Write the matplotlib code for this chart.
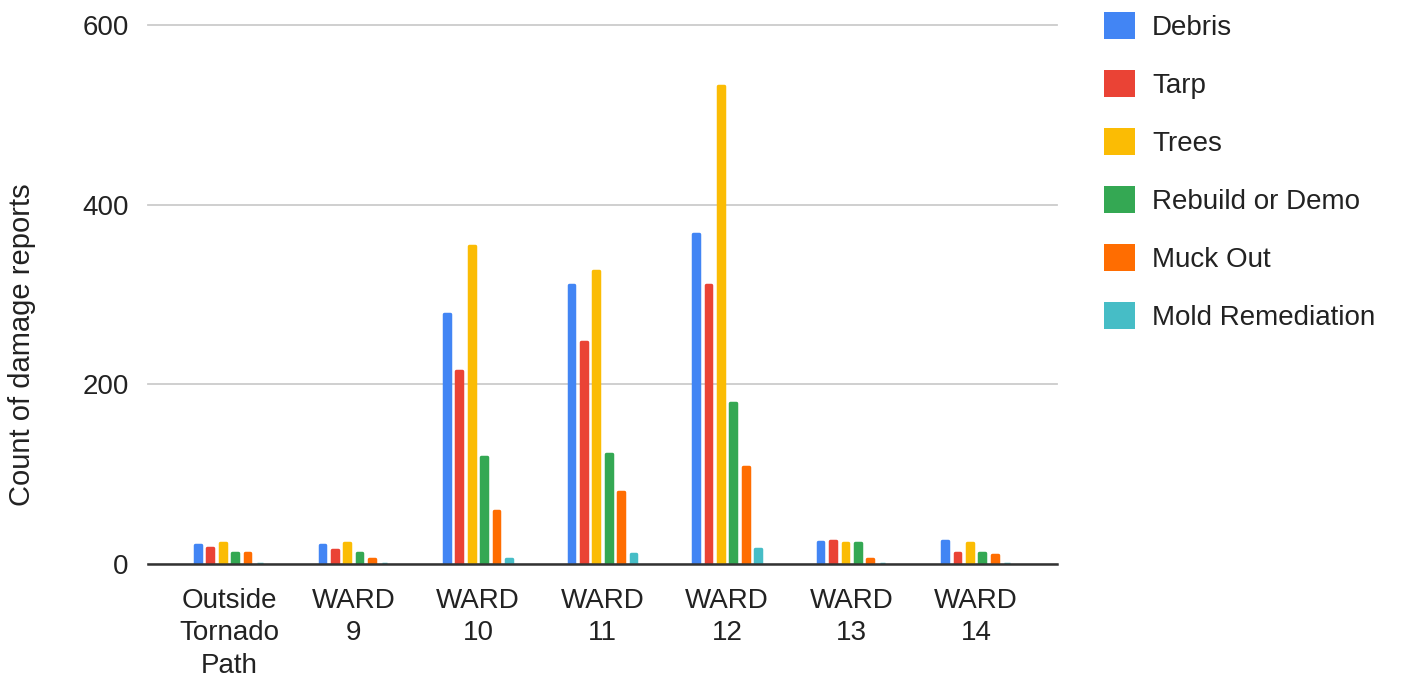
import matplotlib.pyplot as plt
import numpy as np

plt.rcParams['font.family'] = ['Liberation Sans', 'DejaVu Sans']

categories = ['Outside\nTornado\nPath', 'WARD\n9', 'WARD\n10', 'WARD\n11',
              'WARD\n12', 'WARD\n13', 'WARD\n14']
series = ['Debris', 'Tarp', 'Trees', 'Rebuild or Demo', 'Muck Out', 'Mold Remediation']
debris = [21, 21, 278, 311, 367, 24, 26]
tarp = [18, 16, 215, 247, 311, 26, 12]
trees = [23, 23, 354, 326, 532, 23, 23]
rebuild = [12, 12, 119, 122, 179, 23, 12]
muck = [12, 6, 59, 80, 108, 6, 10]
mold = [0, 0, 6, 11, 17, 0, 0]
colors = ['#4285F4', '#EA4335', '#FBBC04', '#34A853', '#FF6D01', '#46BDC6']

values = [debris, tarp, trees, rebuild, muck, mold]

fig = plt.figure(figsize=(14.08, 6.79), dpi=100)
ax = fig.add_axes([148 / 1408, 1 - 564 / 679, (1057 - 148) / 1408, (564 - 25) / 679])

x = np.arange(len(categories))
step = 0.1
for i, (name, vals, c) in enumerate(zip(series, values, colors)):
    ax.bar(x + (i - 2.5) * step, vals, width=0.045, color=c, edgecolor=c,
           linewidth=2.5, joinstyle='round', label=name, zorder=3)

ax.set_xlim(-0.65, 6.65)
ax.set_ylim(0, 600)
ax.set_yticks([0, 200, 400, 600])
ax.set_xticks(x)
ax.set_xticklabels(categories, linespacing=1.33)
ax.tick_params(axis='both', length=0, labelsize=20, labelcolor='#222222')
ax.tick_params(axis='y', pad=14)
ax.tick_params(axis='x', pad=17)
for s in ['top', 'right', 'left']:
    ax.spines[s].set_visible(False)
ax.spines['bottom'].set_color('#333333')
ax.spines['bottom'].set_linewidth(1.8)
ax.spines['bottom'].set_zorder(4)
ax.yaxis.grid(True, color='#cccccc', linewidth=1.3, zorder=0)
for gl in ax.get_ygridlines():
    gl.set_clip_on(False)

fig.text(22 / 1408, 1 - 345 / 679, 'Count of damage reports', rotation=90,
         ha='center', va='center', fontsize=21, color='#222222')

leg = ax.legend(loc='upper left', bbox_to_anchor=(1093 / 1408, 1 - 1 / 679),
                bbox_transform=fig.transFigure, frameon=False, fontsize=20,
                handlelength=1.1, handleheight=1.1, labelspacing=1.05,
                handletextpad=0.62, borderaxespad=0)
for t in leg.get_texts():
    t.set_color('#222222')
for h in leg.legend_handles:
    h.set_linewidth(0)

fig.savefig('out.png', dpi=100)
